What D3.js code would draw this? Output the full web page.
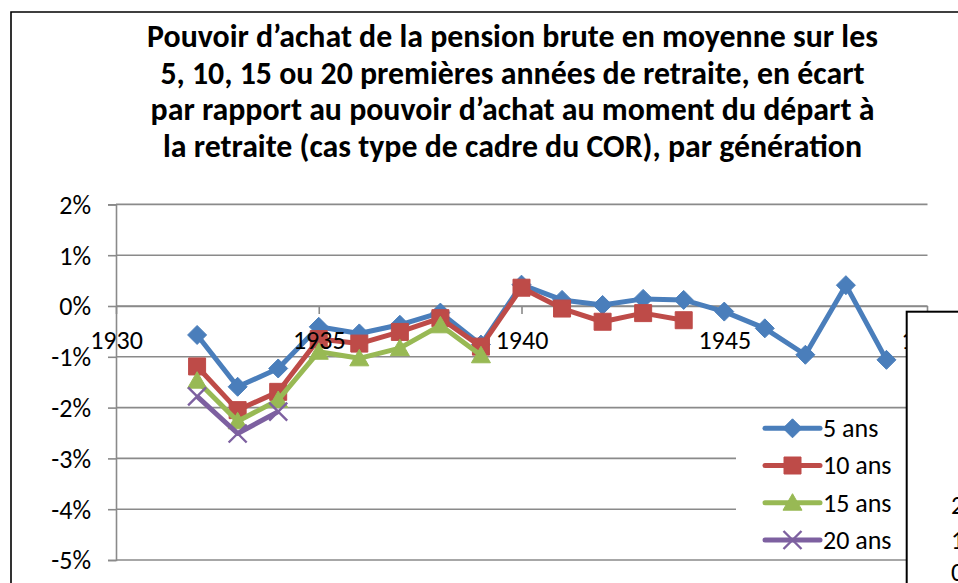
<!DOCTYPE html>
<html>
<head>
<meta charset="utf-8">
<script src="https://cdn.jsdelivr.net/npm/d3@7"></script>
<style>
  body { margin: 0; background: #fff; }
  svg { display: block; }
</style>
</head>
<body>
<div id="chart"></div>
<script>
// Pouvoir d'achat de la pension brute, écart au départ (cas type cadre COR)
// Valeurs, en %.

const titleLines = [
  'Pouvoir d\u2019achat de la pension brute en moyenne sur les',
  '5, 10, 15 ou 20 premières années de retraite, en écart',
  'par rapport au pouvoir d\u2019achat au moment du départ à',
  'la retraite (cas type de cadre du COR), par génération'
];

const axisYears = [1930, 1931, 1932, 1933, 1934, 1935, 1936, 1937, 1938, 1939, 1940,
  1941, 1942, 1943, 1944, 1945, 1946, 1947, 1948, 1949, 1950];
const yearTicks = [1930, 1935, 1940, 1945, 1950];
const pctTicks = [-5, -4, -3, -2, -1, 0, 1, 2];

const generations = [1932, 1933, 1934, 1935, 1936, 1937, 1938, 1939, 1940,
  1941, 1942, 1943, 1944, 1945, 1946, 1947, 1948, 1949];
const fiveYears = [-0.57, -1.59, -1.23, -0.41, -0.54, -0.37, -0.13, -0.76, 0.42,
  0.12, 0.02, 0.14, 0.12, -0.11, -0.44, -0.96, 0.41, -1.06];
const tenYears = [-1.19, -2.05, -1.69, -0.65, -0.74, -0.51, -0.24, -0.80, 0.36,
  -0.05, -0.31, -0.14, -0.28, null, null, null, null, null];
const fifteenYears = [-1.47, -2.27, -1.85, -0.90, -1.03, -0.83, -0.38, -0.97, null,
  null, null, null, null, null, null, null, null, null];
const twentyYears = [-1.78, -2.51, -2.08, null, null, null, null, null, null,
  null, null, null, null, null, null, null, null, null];

const seriesNames = ['5 ans', '10 ans', '15 ans', '20 ans'];
const seriesValues = [fiveYears, tenYears, fifteenYears, twentyYears];

const COLORS = ['#4a7ebb', '#be4b48', '#98b954', '#7d60a0'];
const MARKERS = ['diamond', 'square', 'triangle', 'times'];
const GRID = '#8a8a8a';
const FONT = 'Carlito, Calibri, Lato, sans-serif';
const LABEL_SIZE = 26;

const W = 958, H = 583;
const svg = d3.select('#chart').append('svg')
  .attr('width', W).attr('height', H)
  .attr('viewBox', `0 0 ${W} ${H}`);

svg.append('rect').attr('width', W).attr('height', H).attr('fill', '#fff');

// cadre extérieur (seuls bords gauche et haut visibles)
svg.append('path')
  .attr('d', `M11,${H + 2} L11,12 L${W + 2},12`)
  .attr('fill', 'none').attr('stroke', '#000').attr('stroke-width', 1.6);

// titre
const title = svg.append('g').attr('font-family', FONT).attr('font-weight', 700)
  .attr('text-anchor', 'middle').attr('fill', '#000');
const titleBase = [47, 83.5, 120, 157];
const tl = title.selectAll('text').data(titleLines).join('text')
  .attr('x', 512.5).attr('y', (d, i) => titleBase[i])
  .attr('font-size', 100).text(d => d);
const w0 = tl.nodes()[0].getComputedTextLength();
tl.attr('font-size', 100 * 731 / w0);

// échelles
const x = d3.scalePoint().domain(axisYears).range([116, 927]);
const y = d3.scaleLinear().domain([-5, 2]).range([560, 204.4]);

// grille horizontale
svg.append('g').selectAll('line').data(pctTicks).join('line')
  .attr('x1', 116).attr('x2', 927.5)
  .attr('y1', d => y(d)).attr('y2', d => y(d))
  .attr('stroke', GRID).attr('stroke-width', 1.6);

// axe vertical
const yAxis = svg.append('g').attr('transform', 'translate(116,0)')
  .call(d3.axisLeft(y).tickValues(pctTicks).tickSize(8).tickPadding(17)
    .tickFormat(d => `${d}%`));
yAxis.select('.domain').attr('stroke', GRID).attr('stroke-width', 1.6);
yAxis.selectAll('.tick line').attr('stroke', GRID).attr('stroke-width', 1.6);
yAxis.selectAll('.tick text').attr('font-family', FONT).attr('font-size', LABEL_SIZE)
  .attr('fill', '#000').attr('dy', '0.34em');

// axe horizontal (croise à 0 %) : ligne et graduations sous les séries
const xAxis = svg.append('g').attr('transform', `translate(0,${y(0)})`)
  .call(d3.axisBottom(x).tickValues(yearTicks).tickSize(8).tickPadding(17)
    .tickSizeOuter(0));
xAxis.select('.domain').attr('stroke', GRID).attr('stroke-width', 1.6);
xAxis.selectAll('.tick line').attr('stroke', GRID).attr('stroke-width', 1.6);
xAxis.selectAll('.tick text').remove();

// marqueurs
function markerPath(type) {
  if (type === 'diamond') return 'M0,-9.5L9.5,0L0,9.5L-9.5,0Z';
  if (type === 'square') return 'M-8.5,-8.5H8.5V8.5H-8.5Z';
  if (type === 'triangle') return 'M0,-9L9.5,7.5H-9.5Z';
  return 'M-9,-9L9,9M-9,9L9,-9';
}
function drawMarker(sel, type, color) {
  if (type === 'times') {
    sel.attr('d', markerPath(type)).attr('fill', 'none')
      .attr('stroke', color).attr('stroke-width', 2.4);
  } else {
    sel.attr('d', markerPath(type)).attr('fill', color)
      .attr('stroke', color).attr('stroke-width', 1);
  }
}

const line = d3.line()
  .defined(d => d.v != null)
  .x(d => x(d.year)).y(d => y(d.v));

seriesValues.forEach((vals, i) => {
  const pts = generations.map((g, j) => ({ year: g, v: vals[j] }));
  const gS = svg.append('g');
  gS.append('path').datum(pts).attr('d', line)
    .attr('fill', 'none').attr('stroke', COLORS[i])
    .attr('stroke-width', 5).attr('stroke-linejoin', 'round');
  gS.selectAll('path.m').data(pts.filter(d => d.v != null)).join('path')
    .attr('class', 'm')
    .attr('transform', d => `translate(${x(d.year)},${y(d.v)})`)
    .call(drawMarker, MARKERS[i], COLORS[i]);
});

// étiquettes des années, par-dessus les courbes
const xLabels = svg.append('g').attr('transform', `translate(0,${y(0)})`)
  .call(d3.axisBottom(x).tickValues(yearTicks).tickSize(8).tickPadding(17)
    .tickSizeOuter(0));
xLabels.select('.domain').remove();
xLabels.selectAll('.tick line').remove();
xLabels.selectAll('.tick text').attr('font-family', FONT).attr('font-size', LABEL_SIZE)
  .attr('fill', '#000');

// légende
const legend = svg.append('g');
legend.append('rect').attr('x', 736).attr('y', 414).attr('width', 175).attr('height', 144)
  .attr('fill', '#fff');
const legendY = [428.3, 465.5, 502.7, 540];
seriesNames.forEach((name, i) => {
  const row = legend.append('g').attr('transform', `translate(0,${legendY[i]})`);
  row.append('line').attr('x1', 765).attr('x2', 820).attr('y1', 0).attr('y2', 0)
    .attr('stroke', COLORS[i]).attr('stroke-width', 5).attr('stroke-linecap', 'round');
  row.append('path').attr('transform', 'translate(792.5,0)')
    .call(drawMarker, MARKERS[i], COLORS[i]);
  row.append('text').attr('x', 823).attr('y', 0).attr('dy', '0.34em')
    .attr('font-family', FONT).attr('font-size', LABEL_SIZE).attr('fill', '#000')
    .text(name);
});

// encadré superposé (autre graphique, coupé au bord de l'image)
svg.append('rect').attr('x', 906.7).attr('y', 311.7).attr('width', 120).attr('height', 320)
  .attr('fill', '#fff').attr('stroke', '#000').attr('stroke-width', 2);
const cutLabels = ['2', '1', '0'];
const cutY = [505, 540, 572];
svg.append('g').selectAll('text').data(cutLabels).join('text')
  .attr('x', 951).attr('y', (d, i) => cutY[i]).attr('dy', '0.34em')
  .attr('font-family', FONT).attr('font-size', LABEL_SIZE).attr('fill', '#000')
  .text(d => d);
</script>
</body>
</html>
